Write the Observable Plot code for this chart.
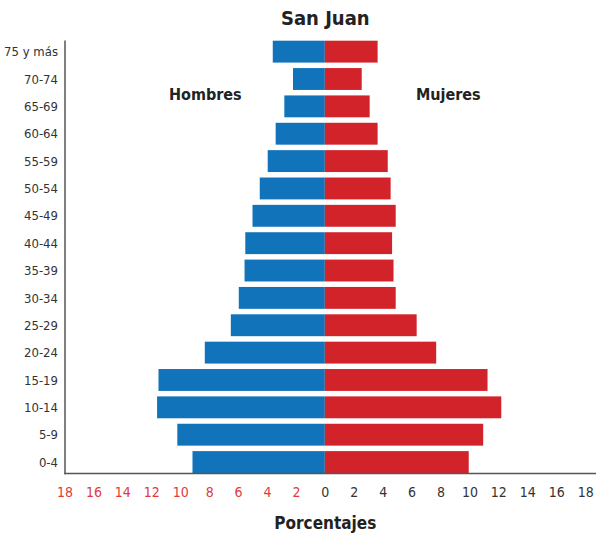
<!DOCTYPE html>
<html><head><meta charset="utf-8">
<script src="https://cdn.jsdelivr.net/npm/d3@7"></script>
<script src="https://cdn.jsdelivr.net/npm/@observablehq/plot@0.6"></script>
<style>
body{margin:0;background:#fff;}
svg, svg text{font-family:"DejaVu Sans Condensed","DejaVu Sans",sans-serif; font-stretch:condensed;}
</style></head>
<body><div id="chart"></div>
<script>
const ageGroups = ["75 y más","70-74","65-69","60-64","55-59","50-54","45-49","40-44","35-39","30-34","25-29","20-24","15-19","10-14","5-9","0-4"];
const hombres = [3.6,2.2,2.8,3.4,3.95,4.5,5.0,5.5,5.55,5.95,6.5,8.3,11.5,11.6,10.2,9.15];
const mujeres = [3.65,2.55,3.1,3.65,4.35,4.55,4.9,4.65,4.75,4.9,6.35,7.7,11.25,12.2,10.95,9.95];
const leftTicks = [-18,-16,-14,-12,-10,-8,-6,-4,-2];
const rightTicks = [0,2,4,6,8,10,12,14,16,18];
const title = "San Juan";
const xLabel = "Porcentajes";

const rows = [];
ageGroups.forEach((g,i)=>{
  rows.push({age:g, sexo:"Hombres", v:-hombres[i]});
  rows.push({age:g, sexo:"Mujeres", v:mujeres[i]});
});
const font = "DejaVu Sans Condensed, DejaVu Sans, sans-serif";
const chart = Plot.plot({
  width:596, height:535,
  marginLeft:64.5, marginRight:0, marginTop:40.7, marginBottom:62,
  style:{fontFamily:font, background:"#fff", fontStretch:"condensed"},
  x:{domain:[-18,18.75], axis:null},
  y:{domain:ageGroups, paddingInner:0.2, paddingOuter:0, round:false, axis:null},
  marks:[
    Plot.barX(rows,{x:"v", y:"age", fill:d=>d.sexo==="Hombres"?"#1174bb":"#d2232b"}),
    Plot.axisY({tickSize:0, tickPadding:7, fontSize:13, fill:"#333", label:null}),
    Plot.axisX({ticks:leftTicks, tickFormat:d=>String(Math.abs(d)), tickSize:0, tickPadding:14, fontSize:14, fill:"#e03a40", label:null}),
    Plot.axisX({ticks:rightTicks, tickSize:0, tickPadding:14, fontSize:14, fill:"#333", label:null}),
    Plot.frame({anchor:"left", stroke:"#555", strokeWidth:1.5}),
    Plot.frame({anchor:"bottom", stroke:"#555", strokeWidth:1.5}),
    Plot.text(["Hombres"],{x:-8.3, y:["70-74"], dy:15, text:d=>d, fontWeight:"bold", fontSize:16, fill:"#222"}),
    Plot.text(["Mujeres"],{x:8.5, y:["70-74"], dy:15, text:d=>d, fontWeight:"bold", fontSize:16, fill:"#222"}),
    Plot.text([title],{x:0, frameAnchor:"top", dy:-30, text:d=>d, fontWeight:"bold", fontSize:20, fill:"#222"}),
    Plot.text([xLabel],{x:0, frameAnchor:"bottom", dy:55, text:d=>d, fontWeight:"bold", fontSize:17, fill:"#222"})
  ]
});
document.getElementById("chart").appendChild(chart);
</script></body></html>
